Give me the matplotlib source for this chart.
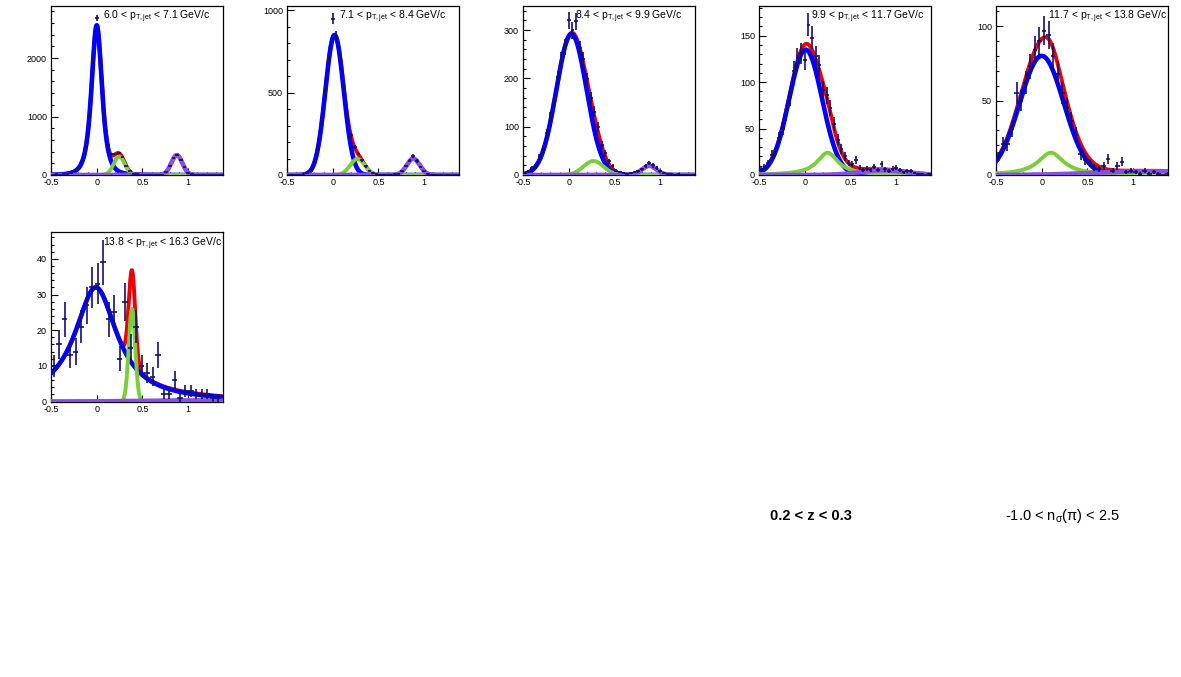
import numpy as np
import matplotlib.pyplot as plt
from matplotlib.ticker import AutoMinorLocator, MultipleLocator

plt.rcParams['font.family'] = ['Liberation Sans', 'DejaVu Sans']
plt.rcParams['mathtext.fontset'] = 'custom'
plt.rcParams['mathtext.rm'] = 'Liberation Sans'
plt.rcParams['mathtext.it'] = 'Liberation Sans:italic'
plt.rcParams['mathtext.bf'] = 'Liberation Sans:bold'

# jet pT bins shown in each pad
pt_lo = ['6.0', '7.1', '8.4', '9.9', '11.7', '13.8']
pt_hi = ['7.1', '8.4', '9.9', '11.7', '13.8', '16.3']

# histogram bin centres
bins_a = [-0.48, -0.44, -0.40, -0.36, -0.32, -0.28, -0.24, -0.20, -0.16, -0.12,
          -0.08, -0.04, 0.00, 0.04, 0.08, 0.12, 0.16, 0.20, 0.24, 0.28,
          0.32, 0.36, 0.40, 0.44, 0.48, 0.52, 0.56, 0.60, 0.64, 0.68,
          0.72, 0.76, 0.80, 0.84, 0.88, 0.92, 0.96, 1.00, 1.04, 1.08,
          1.12, 1.16, 1.20, 1.24, 1.28, 1.32, 1.36]
bins_b = [-0.475, -0.425, -0.375, -0.325, -0.275, -0.225, -0.175, -0.125, -0.075, -0.025,
          0.025, 0.075, 0.125, 0.175, 0.225, 0.275, 0.325, 0.375, 0.425, 0.475,
          0.525, 0.575, 0.625, 0.675, 0.725, 0.775, 0.825, 0.875, 0.925, 0.975,
          1.025, 1.075, 1.125, 1.175, 1.225, 1.275, 1.325, 1.375]
bins_c = [-0.47, -0.41, -0.35, -0.29, -0.23, -0.17, -0.11, -0.05, 0.01, 0.07,
          0.13, 0.19, 0.25, 0.31, 0.37, 0.43, 0.49, 0.55, 0.61, 0.67,
          0.73, 0.79, 0.85, 0.91, 0.97, 1.03, 1.09, 1.15, 1.21, 1.27, 1.33]

# counts per pad
y1 = [6, 9, 8, 18, 21, 42, 70, 112, 232, 480,
      1030, 1960, 2690, 1925, 1040, 520, 355, 360, 370, 310,
      160, 70, 24, 11, 6, 4, 5, 3, 2, 3,
      5, 48, 160, 295, 345, 250, 130, 38, 10, 3,
      2, 1, 1, 0, 1, 0, 1]
y2 = [1, 2, 1, 3, 4, 10, 27, 80, 170, 325,
      510, 700, 950, 845, 715, 530, 355, 240, 170, 130,
      90, 52, 27, 12, 5, 3, 2, 3, 2, 4,
      8, 25, 55, 88, 115, 85, 50, 22, 8, 3,
      2, 1, 1, 0, 1, 0, 0]
y3 = [4, 8, 14, 20, 38, 52, 86, 120, 152, 202,
      240, 265, 320, 300, 318, 262, 240, 198, 160, 131,
      100, 62, 45, 28, 18, 9, 6, 4, 3, 4,
      6, 8, 12, 18, 25, 20, 14, 8, 5, 3,
      2, 1, 2, 1, 1, 0, 1]
y4 = [7, 9, 13, 22, 24, 40, 50, 66, 84, 112,
      126, 131, 124, 162, 148, 128, 118, 92, 86, 72,
      55, 38, 28, 20, 13, 12, 16, 8, 5, 7,
      5, 9, 5, 12, 6, 4, 7, 8, 5, 3,
      4, 4, 2, 1, 1, 0, 1]
y5 = [12, 21, 21, 31, 55, 50, 62, 73, 84, 90,
      97, 94, 80, 68, 55, 45, 36, 27, 14, 10,
      8, 5, 4, 6, 11, 3, 6, 9, 2, 3,
      2, 1, 3, 1, 2, 1, 0, 1]
y6 = [10, 16, 23, 13, 14, 21, 27, 32, 33, 39,
      23, 25, 12, 28, 15, 21, 10, 8, 7, 13,
      2, 2, 6, 1, 3, 3, 2, 2, 2, 1, 1]

pad_x = [bins_a, bins_a, bins_a, bins_a, bins_b, bins_c]
pad_y = [y1, y2, y3, y4, y5, y6]
bin_half = [0.02, 0.02, 0.02, 0.02, 0.025, 0.03]

# fit components (nu = 0 -> gaussian, otherwise student-t)
pi_amp = [2560, 850, 292, 135, 80, 32]
pi_mean = [0.0, 0.02, 0.03, 0.01, 0.0, -0.01]
pi_width = [0.06, 0.10, 0.165, 0.18, 0.24, 0.28]
pi_nu = [3, 0, 0, 0, 0, 1]
ka_amp = [313, 97, 29, 24, 15, 26]
ka_mean = [0.245, 0.27, 0.27, 0.25, 0.10, 0.385]
ka_width = [0.06, 0.08, 0.11, 0.14, 0.17, 0.035]
ka_nu = [0, 0, 0, 1, 1, 0]
pr_amp = [340, 100, 19, 5, 2.5, 0.3]
pr_mean = [0.875, 0.88, 0.88, 0.85, 1.2, 1.0]
pr_width = [0.06, 0.07, 0.08, 0.25, 0.6, 0.5]

y_max = [2890, 1026, 350, 182, 113.5, 47.4]
y_step = [1000, 500, 100, 50, 50, 10]

# colours
C_DATA = '#12126e'
C_PI = '#0000ff'
C_KA = '#7ccd3c'
C_PR = '#8a4fe0'
C_SUM = '#f00000'


def peak(x, amp, mean, width, nu):
    z = (x - mean) / width
    if nu == 0:
        return amp * np.exp(-0.5 * z ** 2)
    return amp * (1 + z ** 2 / nu) ** (-(nu + 1) / 2)


W, H = 1181, 677
fig = plt.figure(figsize=(W / 100, H / 100), dpi=100)

pad_left = [51, 287, 523, 759, 996, 51]
pad_top = [6, 6, 6, 6, 6, 232.5]
aw, ah = 172, 169

xs = np.linspace(-0.5, 1.38, 500)

for i in range(6):
    ax = fig.add_axes([pad_left[i] / W, 1 - (pad_top[i] + ah) / H, aw / W, ah / H])

    pi = peak(xs, pi_amp[i], pi_mean[i], pi_width[i], pi_nu[i])
    ka = peak(xs, ka_amp[i], ka_mean[i], ka_width[i], ka_nu[i])
    pr = peak(xs, pr_amp[i], pr_mean[i], pr_width[i], 0)

    ax.plot(xs, pi + ka + pr, color=C_SUM, lw=2.8, zorder=2)
    ax.plot(xs, pi, color=C_PI, lw=3.3, zorder=3)
    ax.plot(xs, ka, color=C_KA, lw=2.8, zorder=4)
    ax.plot(xs, pr, color=C_PR, lw=3.3, zorder=5)

    yy = np.array(pad_y[i], dtype=float)
    ax.errorbar(pad_x[i], yy, yerr=np.sqrt(yy), xerr=bin_half[i], fmt='none',
                ecolor=C_DATA, elinewidth=1.2, capsize=0, zorder=6)

    ax.set_xlim(-0.5, 1.38)
    ax.set_ylim(0, y_max[i])
    ax.xaxis.set_major_locator(MultipleLocator(0.5))
    ax.yaxis.set_major_locator(MultipleLocator(y_step[i]))
    ax.xaxis.set_minor_locator(AutoMinorLocator(5))
    ax.yaxis.set_minor_locator(AutoMinorLocator(5))
    ax.xaxis.set_major_formatter(plt.FuncFormatter(lambda v, p: f'{v:g}'))
    ax.tick_params(which='both', direction='in', top=False, right=False,
                   labelsize=6.5, width=0.8)
    ax.tick_params(which='major', length=5)
    ax.tick_params(axis='x', which='major', pad=2.5)
    ax.tick_params(axis='y', which='major', pad=3)
    ax.tick_params(which='minor', length=2.5)
    for sp in ax.spines.values():
        sp.set_linewidth(0.9)

    ax.text(0.30, 0.935, pt_lo[i] + r' < p$_{\mathregular{T,jet}}$ < ' + pt_hi[i] + ' GeV/c',
            transform=ax.transAxes, ha='left', va='center', fontsize=7.5, zorder=10)

fig.text(811 / W, 1 - 516 / H, '0.2 < z < 0.3', ha='center', va='center',
         fontsize=10.5, fontweight='bold')
fig.text(1063 / W, 1 - 516 / H, r'-1.0 < n$_{\mathregular{σ}}$(π) < 2.5',
         ha='center', va='center', fontsize=10.5)

fig.savefig('out.png', dpi=100)
